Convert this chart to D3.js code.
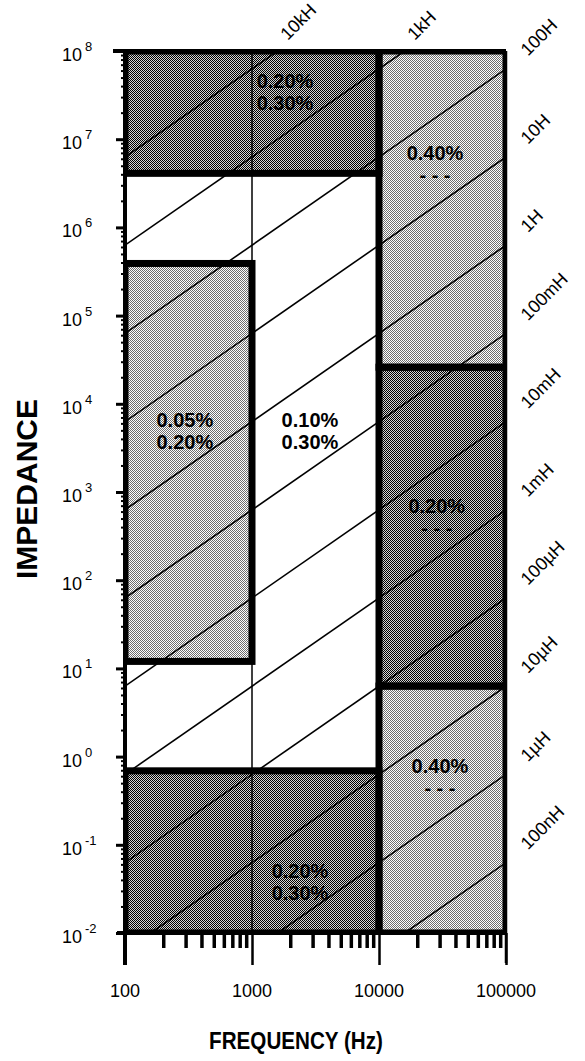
<!DOCTYPE html>
<html>
<head>
<meta charset="utf-8">
<script src="https://cdn.jsdelivr.net/npm/d3@7"></script>
<style>
  body { margin: 0; background: #fff; }
  text { font-family: "Liberation Sans", Arial, sans-serif; fill: #000; }
</style>
</head>
<body>
<svg id="chart" width="585" height="1061"></svg>
<script>
// axis values
const freqTicks = [100, 1000, 10000, 100000];
const freqTickLabels = ["100", "1000", "10000", "100000"];
const impedanceExps = [8, 7, 6, 5, 4, 3, 2, 1, 0, -1, -2];

// constant-inductance lines (henry) and their labels
const inductances = [1e4, 1e3, 100, 10, 1, 0.1, 0.01, 1e-3, 1e-4, 1e-5, 1e-6, 1e-7];
const inductanceLabels = ["10kH", "1kH", "100H", "10H", "1H", "100mH", "10mH", "1mH", "100µH", "10µH", "1µH", "100nH"];

// accuracy zones: frequency range, impedance range, tone
const zones = [
    { f: [100, 10000],    z: [4.1e6, 1e8],   tone: "dark" },
    { f: [10000, 100000], z: [2.6e4, 1e8],   tone: "light" },
    { f: [100, 1000],     z: [12, 3.9e5],    tone: "light" },
    { f: [10000, 100000], z: [6.3, 2.6e4],   tone: "dark" },
    { f: [10000, 100000], z: [0.01, 6.3],    tone: "light" },
    { f: [100, 10000],    z: [0.01, 0.69],   tone: "dark" }
];

// accuracy notes placed at (frequency, impedance)
const notes = [
    { f: 1820,  z: 3.8e7, lines: ["0.20%", "0.30%"] },
    { f: 27600, z: 5.8e6, lines: ["0.40%", "- - -"] },
    { f: 296,   z: 5460,  lines: ["0.05%", "0.20%"] },
    { f: 2860,  z: 5460,  lines: ["0.10%", "0.30%"] },
    { f: 28500, z: 578,   lines: ["0.20%", "- - -"] },
    { f: 30200, z: 0.65,  lines: ["0.40%", "- - -"] },
    { f: 2390,  z: 0.042, lines: ["0.20%", "0.30%"] }
];

(function () {
    const svg = d3.select('#chart');
    const plot = { left: 125, right: 506, top: 51, bottom: 933 };

    const x = d3.scaleLog().domain([100, 100000]).range([plot.left, plot.right]);
    const y = d3.scaleLog().domain([1e-2, 1e8]).range([plot.bottom, plot.top]);

    // halftone patterns
    const defs = svg.append('defs');
    const tones = { dark: ['#000', '#d4d4d4'], light: ['#6e6e6e', '#ffffff'] };
    Object.keys(tones).forEach(k => {
        const p = defs.append('pattern')
            .attr('id', 'tone-' + k)
            .attr('width', 2).attr('height', 2)
            .attr('patternUnits', 'userSpaceOnUse');
        p.append('rect').attr('width', 2).attr('height', 2).attr('fill', tones[k][1]);
        p.append('rect').attr('width', 1).attr('height', 1).attr('fill', tones[k][0]);
        p.append('rect').attr('x', 1).attr('y', 1).attr('width', 1).attr('height', 1).attr('fill', tones[k][0]);
    });
    defs.append('clipPath').attr('id', 'plot-clip')
        .append('rect')
        .attr('x', plot.left).attr('y', plot.top)
        .attr('width', plot.right - plot.left).attr('height', plot.bottom - plot.top);

    const g = svg.append('g').attr('clip-path', 'url(#plot-clip)');

    // zone fills
    g.selectAll('rect.zone')
        .data(zones)
        .enter()
        .append('rect')
        .attr('class', 'zone')
        .attr('x', d => x(d.f[0]))
        .attr('y', d => y(d.z[1]))
        .attr('width', d => x(d.f[1]) - x(d.f[0]))
        .attr('height', d => y(d.z[0]) - y(d.z[1]))
        .attr('fill', d => 'url(#tone-' + d.tone + ')');

    // thin grid line at 1 kHz
    g.append('line')
        .attr('x1', x(1000)).attr('x2', x(1000))
        .attr('y1', plot.top).attr('y2', plot.bottom)
        .attr('stroke', '#000').attr('stroke-width', 1.5);

    // inductance lines, Z = 2*pi*f*L
    const zMin = 1e-2, zMax = 1e8, fMin = 100, fMax = 100000;
    const segs = inductances.map((L, i) => {
        const k = 2 * Math.PI * L;
        const f0 = Math.max(fMin, zMin / k);
        const f1 = Math.min(fMax, zMax / k);
        return { L: L, label: inductanceLabels[i], a: [f0, k * f0], b: [f1, k * f1], top: f1 < fMax };
    });
    g.selectAll('line.ind')
        .data(segs)
        .enter()
        .append('line')
        .attr('class', 'ind')
        .attr('x1', d => x(d.a[0])).attr('y1', d => y(d.a[1]))
        .attr('x2', d => x(d.b[0])).attr('y2', d => y(d.b[1]))
        .attr('stroke', '#000').attr('stroke-width', 1.6);

    // thick zone borders
    g.selectAll('rect.border')
        .data(zones)
        .enter()
        .append('rect')
        .attr('class', 'border')
        .attr('x', d => x(d.f[0]))
        .attr('y', d => y(d.z[1]))
        .attr('width', d => x(d.f[1]) - x(d.f[0]))
        .attr('height', d => y(d.z[0]) - y(d.z[1]))
        .attr('fill', 'none')
        .attr('stroke', '#000')
        .attr('stroke-width', 7);

    // bottom axis: minor + major ticks
    const minor = [];
    for (let dec = 100; dec < 100000; dec *= 10)
        for (let m = 2; m <= 9; m++) minor.push(dec * m);

    const xMinor = svg.append('g')
        .attr('transform', `translate(0,${plot.bottom})`)
        .call(d3.axisBottom(x).tickValues(minor).tickSize(15).tickFormat(''));
    xMinor.select('.domain').remove();
    xMinor.selectAll('line').attr('stroke-width', 3.5);

    const xMajor = svg.append('g')
        .attr('transform', `translate(0,${plot.bottom})`)
        .call(d3.axisBottom(x).tickValues(freqTicks).tickSize(32).tickFormat(''));
    xMajor.select('.domain').remove();
    xMajor.selectAll('line').attr('stroke-width', 2.5);

    svg.append('line')
        .attr('x1', plot.left - 8).attr('x2', plot.right + 1)
        .attr('y1', plot.bottom).attr('y2', plot.bottom)
        .attr('stroke', '#000').attr('stroke-width', 4);

    svg.selectAll('text.xlab')
        .data(freqTicks)
        .enter()
        .append('text')
        .attr('class', 'xlab')
        .attr('x', d => x(d))
        .attr('y', 997)
        .attr('text-anchor', 'middle')
        .style('font-size', '18px')
        .text((d, i) => freqTickLabels[i]);

    // left axis
    const yMinor = [];
    impedanceExps.slice(0, -1).forEach(e => {
        for (let m = 2; m <= 9; m++) yMinor.push(m * Math.pow(10, e - 1));
    });
    const yMin = svg.append('g')
        .attr('transform', `translate(${plot.left},0)`)
        .call(d3.axisLeft(y).tickValues(yMinor).tickSize(4).tickFormat(''));
    yMin.select('.domain').remove();
    yMin.selectAll('line').attr('stroke-width', 2);

    const yMaj = svg.append('g')
        .attr('transform', `translate(${plot.left},0)`)
        .call(d3.axisLeft(y).tickValues(impedanceExps.map(e => Math.pow(10, e))).tickSize(9).tickFormat(''));
    yMaj.select('.domain').remove();
    yMaj.selectAll('line').attr('stroke-width', 3);

    svg.append('line')
        .attr('x1', plot.left).attr('x2', plot.left)
        .attr('y1', plot.top - 2).attr('y2', plot.bottom + 32)
        .attr('stroke', '#000').attr('stroke-width', 4);
    svg.append('line')
        .attr('x1', plot.left - 12).attr('x2', plot.right)
        .attr('y1', plot.top).attr('y2', plot.top)
        .attr('stroke', '#000').attr('stroke-width', 4);
    svg.append('line')
        .attr('x1', plot.right).attr('x2', plot.right)
        .attr('y1', plot.top).attr('y2', plot.bottom + 30)
        .attr('stroke', '#000').attr('stroke-width', 2.5);

    const ylab = svg.selectAll('text.ylab')
        .data(impedanceExps)
        .enter()
        .append('text')
        .attr('class', 'ylab')
        .attr('x', 62)
        .attr('y', d => y(Math.pow(10, d)) + 10)
        .style('font-size', '18px');
    ylab.append('tspan').text('10');
    ylab.append('tspan')
        .attr('dx', 3).attr('dy', -10)
        .style('font-size', '13px')
        .text(d => d);

    // inductance labels
    svg.selectAll('text.ind')
        .data(segs)
        .enter()
        .append('text')
        .attr('class', 'ind')
        .attr('transform', d => {
            const px = x(d.b[0]) + (d.top ? 10 : 22);
            const py = y(d.b[1]) - (d.top ? 10 : 12);
            return `translate(${px},${py}) rotate(-45)`;
        })
        .style('font-size', '18px')
        .text(d => d.label);

    // accuracy notes
    const note = svg.selectAll('text.note')
        .data(notes)
        .enter()
        .append('text')
        .attr('class', 'note')
        .attr('x', d => x(d.f))
        .attr('y', d => y(d.z))
        .attr('text-anchor', 'middle')
        .style('font-size', '20px')
        .style('font-weight', 'bold');
    note.selectAll('tspan')
        .data(d => d.lines.map((t, i) => ({ t: t, i: i, cx: x(d.f) })))
        .enter()
        .append('tspan')
        .attr('x', d => d.cx)
        .attr('dy', d => d.i ? 22 : 0)
        .text(d => d.t);

    // axis titles
    svg.append('text')
        .attr('transform', 'translate(296,1049) scale(0.86,1)')
        .attr('text-anchor', 'middle')
        .style('font-size', '24px')
        .style('font-weight', 'bold')
        .text('FREQUENCY (Hz)');
    svg.append('text')
        .attr('transform', 'translate(37,489) rotate(-90)')
        .attr('text-anchor', 'middle')
        .style('font-size', '30px')
        .style('font-weight', 'bold')
        .text('IMPEDANCE');
}());
</script>
</body>
</html>
